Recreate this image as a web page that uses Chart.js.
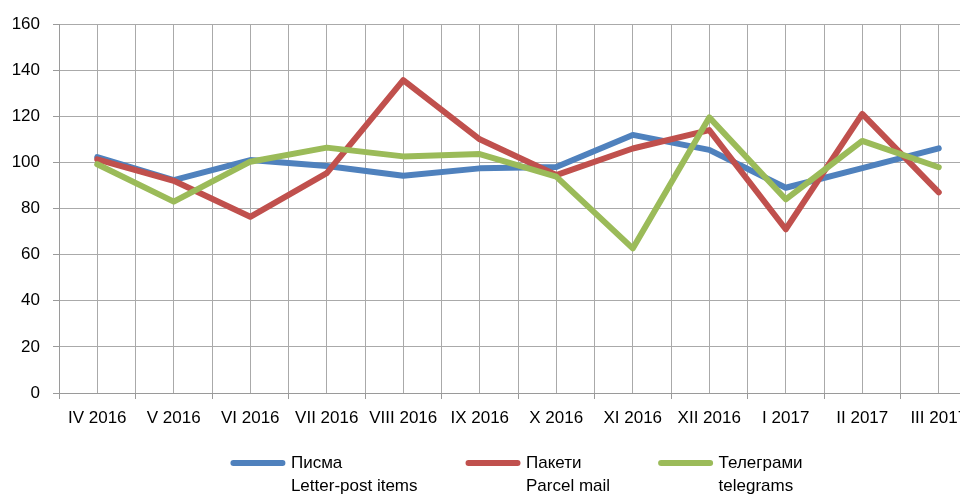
<!DOCTYPE html>
<html>
<head>
<meta charset="utf-8">
<script src="https://cdn.jsdelivr.net/npm/chart.js@4"></script>
<style>
  html, body { margin: 0; padding: 0; background: #fff; overflow: hidden; }
  #wrap { position: relative; width: 977px; height: 560px; }
</style>
</head>
<body>
<div id="wrap"><canvas id="chart"></canvas></div>
<script>
const months = ['IV 2016', 'V 2016', 'VI 2016', 'VII 2016', 'VIII 2016', 'IX 2016', 'X 2016',
                'XI 2016', 'XII 2016', 'I 2017', 'II 2017', 'III 2017'];
const pisma     = [102.3, 92.3, 101.0, 98.4, 94.2, 97.4, 98.0, 111.9, 105.4, 89.0, 97.5, 106.1];
const paketi    = [101.3, 92.0, 76.4, 95.3, 135.7, 110.0, 94.5, 106.0, 114.0, 71.0, 121.0, 87.0];
const telegrami = [99.2, 83.0, 100.3, 106.4, 102.6, 103.6, 93.8, 62.7, 119.5, 84.0, 109.3, 97.9];
const namesRu = ['Писма', 'Пакети', 'Телеграми'];
const namesEn = ['Letter-post items', 'Parcel mail', 'telegrams'];
const colors = ['#4f81bd', '#c0504d', '#9bbb59'];
const yTicks = [0, 20, 40, 60, 80, 100, 120, 140, 160];

const series = [pisma, paketi, telegrami];
const FONT = "'Liberation Sans', Arial, sans-serif";

// two-line legend text; toString gives the widest line so the legend measures it right
const measure = document.createElement('canvas').getContext('2d');
measure.font = '17px ' + FONT;
function legendText(i) {
    const lines = [namesRu[i], namesEn[i]];
    const widest = lines.reduce((a, b) => measure.measureText(a).width >= measure.measureText(b).width ? a : b);
    lines.toString = () => widest;
    return lines;
}

const datasets = series.map((vals, i) => ({
    label: namesRu[i],
    data: vals.map((v, j) => ({ x: j, y: v })),
    borderColor: colors[i],
    backgroundColor: colors[i],
    borderWidth: 6,
    pointRadius: 0,
    tension: 0,
    borderJoinStyle: 'round',
    borderCapStyle: 'round',
    order: series.length - i
}));

// legend box: move up next to the axis labels and leave room for the second line
const legendBox = {
    id: 'legendBox',
    afterLayout(chart) {
        const lg = chart.legend;
        lg.top -= 25;
        lg.bottom += 45;
        lg.height = lg.bottom - lg.top;
    }
};

new Chart(document.getElementById('chart'), {
    type: 'line',
    data: { datasets },
    plugins: [legendBox],
    options: {
        responsive: true,
        maintainAspectRatio: false,
        animation: false,
        layout: { padding: { top: 24, left: 0, right: 0, bottom: 53.5 } },
        plugins: {
            tooltip: { enabled: false },
            legend: {
                position: 'bottom',
                fullSize: false,
                labels: {
                    font: { family: FONT, size: 17, lineHeight: 1.35 },
                    color: '#000',
                    padding: 51,
                    usePointStyle: true,
                    pointStyleWidth: 49,
                    generateLabels: () => namesRu.map((n, i) => ({
                        text: legendText(i),
                        fillStyle: colors[i],
                        strokeStyle: colors[i],
                        lineWidth: 6,
                        lineCap: 'round',
                        pointStyle: 'line',
                        hidden: false,
                        datasetIndex: i
                    }))
                }
            }
        },
        scales: {
            x: {
                type: 'linear',
                min: -0.5,
                max: months.length - 0.5,
                afterFit: s => { s.height = 35.5; s.paddingLeft = 0; s.paddingRight = 0; },
                ticks: {
                    stepSize: 0.5,
                    autoSkip: false,
                    maxRotation: 0,
                    padding: 9,
                    color: '#000',
                    font: { family: FONT, size: 17 },
                    callback: v => Number.isInteger(v) ? months[v] : ''
                },
                grid: {
                    color: '#aaaaaa',
                    lineWidth: 1,
                    tickLength: 6,
                    tickColor: ctx => (ctx.tick && !Number.isInteger(ctx.tick.value)) ? '#9a9a9a' : 'rgba(0,0,0,0)'
                },
                border: { color: '#9a9a9a', width: 1 }
            },
            y: {
                min: 0,
                max: 160,
                afterFit: s => { s.width = 59; },
                afterBuildTicks: s => { s.ticks = yTicks.map(v => ({ value: v })); },
                ticks: {
                    padding: 13,
                    color: '#000',
                    font: { family: FONT, size: 17 }
                },
                grid: { color: '#aaaaaa', lineWidth: 1, tickLength: 6, tickColor: '#9a9a9a' },
                border: { color: '#9a9a9a', width: 1 }
            }
        }
    }
});
</script>
</body>
</html>
